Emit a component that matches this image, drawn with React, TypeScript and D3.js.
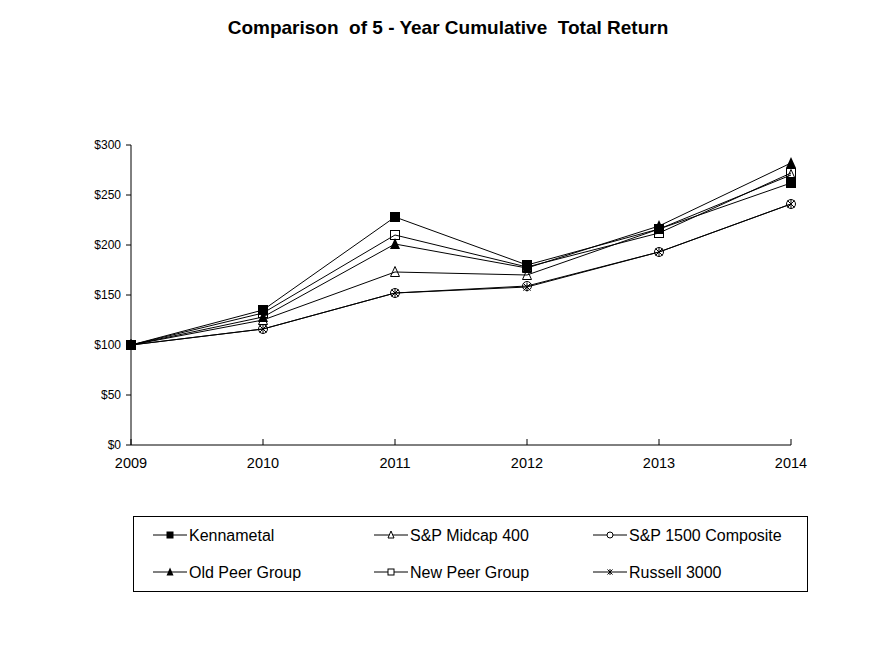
import React from "react";
import * as d3 from "d3";

const years = [2009, 2010, 2011, 2012, 2013, 2014];
const yTicks = [0, 50, 100, 150, 200, 250, 300];

const kennametal = [100, 135, 228, 180, 216, 262];
const spMidcap400 = [100, 125, 173, 170, 216, 270];
const sp1500 = [100, 116, 152, 159, 193, 241];
const oldPeer = [100, 128, 201, 177, 219, 282];
const newPeer = [100, 132, 210, 178, 212, 272];
const russell3000 = [100, 116, 152, 158, 193, 241];

const seriesNames = [
  "Kennametal",
  "S&P Midcap 400",
  "S&P 1500 Composite",
  "Old Peer Group",
  "New Peer Group",
  "Russell 3000",
];
const seriesValues = [kennametal, spMidcap400, sp1500, oldPeer, newPeer, russell3000];
const seriesMarkers = ["squareFilled", "triangleOpen", "circleOpen", "triangleFilled", "squareOpen", "asterisk"];

const FONT = "Arial, 'Liberation Sans', sans-serif";

function Marker({ type, x, y, s, fillOpen }: { type: string; x: number; y: number; s: number; fillOpen: string }) {
  const h = s / 2;
  switch (type) {
    case "squareFilled":
      return <rect x={x - h} y={y - h} width={s} height={s} fill="#000" />;
    case "squareOpen":
      return <rect x={x - h + 0.5} y={y - h + 0.5} width={s - 1} height={s - 1} fill={fillOpen} stroke="#000" strokeWidth={1} />;
    case "triangleFilled":
      return <path d={`M${x},${y - h - 1}L${x + h},${y + h}L${x - h},${y + h}Z`} fill="#000" />;
    case "triangleOpen":
      return <path d={`M${x},${y - h - 0.5}L${x + h - 0.5},${y + h - 0.5}L${x - h + 0.5},${y + h - 0.5}Z`} fill={fillOpen} stroke="#000" strokeWidth={1} />;
    case "circleOpen":
      return <circle cx={x} cy={y} r={h - 0.5} fill={fillOpen} stroke="#000" strokeWidth={1} />;
    case "asterisk": {
      const d = h * 0.72;
      return (
        <g stroke="#000" strokeWidth={1}>
          <line x1={x} y1={y - h + 0.5} x2={x} y2={y + h - 0.5} />
          <line x1={x - d} y1={y - d} x2={x + d} y2={y + d} />
          <line x1={x - d} y1={y + d} x2={x + d} y2={y - d} />
        </g>
      );
    }
    default:
      return null;
  }
}

export default function App() {
  const W = 896;
  const H = 646;
  const x = d3.scaleLinear().domain([2009, 2014]).range([131, 791]);
  const y = d3.scaleLinear().domain([0, 300]).range([445, 145]);
  const line = d3
    .line<number>()
    .x((_, i) => x(years[i]))
    .y((v) => y(v));

  const legendCols = [153, 374, 593];
  const legendRows = [535, 572];

  return (
    <svg
      width={W}
      height={H}
      style={{ position: "absolute", left: 0, top: 0, background: "#fff" }}
      fontFamily={FONT}
    >
      <rect x={0} y={0} width={W} height={H} fill="#fff" />
      <text x={448} y={34} textAnchor="middle" fontSize={19} fontWeight="bold" fill="#000" xmlSpace="preserve">
        {"Comparison  of 5 - Year Cumulative  Total Return"}
      </text>

      {/* axes */}
      <line x1={131} y1={y(300)} x2={131} y2={y(0)} stroke="#000" strokeWidth={1} />
      <line x1={131} y1={y(0)} x2={791} y2={y(0)} stroke="#000" strokeWidth={1} />
      {yTicks.map((t) => (
        <g key={t}>
          <line x1={126} y1={y(t)} x2={131} y2={y(t)} stroke="#000" strokeWidth={1} />
          <text x={121} y={y(t)} dy="0.35em" textAnchor="end" fontSize={12} fill="#000">
            {`$${t}`}
          </text>
        </g>
      ))}
      {years.map((yr) => (
        <g key={yr}>
          <line x1={x(yr)} y1={y(0) - 6} x2={x(yr)} y2={y(0)} stroke="#000" strokeWidth={1} />
          <text x={x(yr)} y={467.5} textAnchor="middle" fontSize={14.5} fill="#000">
            {yr}
          </text>
        </g>
      ))}

      {/* lines */}
      {seriesValues.map((vals, si) => (
        <path key={`l${si}`} d={line(vals) || ""} fill="none" stroke="#000" strokeWidth={1} />
      ))}
      {seriesValues.map((vals, si) => (
        <g key={`m${si}`}>
          {vals.map((v, i) => (
            <Marker key={i} type={seriesMarkers[si]} x={x(years[i])} y={y(v)} s={10} fillOpen="none" />
          ))}
        </g>
      ))}

      {/* legend */}
      <rect x={133.5} y={516.5} width={674} height={75} fill="none" stroke="#000" strokeWidth={1} />
      {seriesNames.map((name, i) => {
        const col = i % 3;
        const row = Math.floor(i / 3);
        const lx = legendCols[col];
        const ly = legendRows[row];
        return (
          <g key={name}>
            <line x1={lx} y1={ly} x2={lx + 34} y2={ly} stroke="#000" strokeWidth={1} />
            <Marker type={seriesMarkers[i]} x={lx + 17} y={ly} s={7} fillOpen="#fff" />
            <text x={lx + 36} y={ly} dy="0.36em" fontSize={16} fill="#000">
              {name}
            </text>
          </g>
        );
      })}
    </svg>
  );
}
